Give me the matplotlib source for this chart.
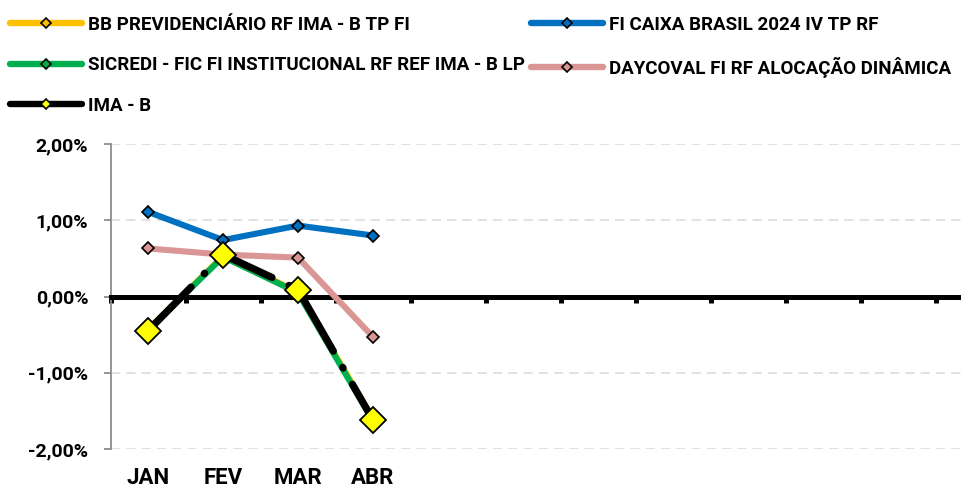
import numpy as np
import matplotlib
matplotlib.use("Agg")
import matplotlib.pyplot as plt
from matplotlib.lines import Line2D

plt.rcParams['font.family'] = ['Roboto', 'DejaVu Sans']
plt.rcParams['font.weight'] = 'bold'

# monthly returns (%)
months = ['JAN', 'FEV', 'MAR', 'ABR']
n_slots = 12
bb_prev = [-0.43, 0.53, 0.06, -1.60]
caixa_2024 = [1.11, 0.74, 0.93, 0.80]
sicredi = [-0.44, 0.52, 0.05, -1.63]
daycoval = [0.63, 0.55, 0.51, -0.53]
ima_b = [-0.45, 0.55, 0.09, -1.62]

names = ['BB PREVIDENCIÁRIO RF IMA - B TP FI',
         'FI CAIXA BRASIL 2024 IV TP RF',
         'SICREDI - FIC FI INSTITUCIONAL RF REF IMA - B LP',
         'DAYCOVAL FI RF ALOCAÇÃO DINÂMICA',
         'IMA - B']
colors = ['#FFC000', '#0070C0', '#00B050', '#DA9694', '#000000']
yticks = [-2, -1, 0, 1, 2]

W, H = 961, 492
fig = plt.figure(figsize=(W / 100, H / 100), dpi=100)
ax = fig.add_axes([110.5 / W, (H - 449) / H, 900 / W, 305 / H])

x = np.arange(len(months))
lw = 4.4
ax.plot(x, bb_prev, color=colors[0], lw=lw, marker='D', ms=6, mfc=colors[0], mec='k', zorder=3)
ax.plot(x, caixa_2024, color=colors[1], lw=lw, marker='D', ms=6.5, mfc=colors[1], mec='k', mew=1.2, zorder=3)
ax.plot(x, sicredi, color=colors[2], lw=lw, marker='D', ms=6, mfc=colors[2], mec='k', zorder=4)
ax.plot(x, daycoval, color=colors[3], lw=lw, marker='D', ms=6.5, mfc=colors[3], mec='k', mew=1.2, zorder=4)
ax.plot(x, ima_b, color='k', lw=5.2, dashes=(8.5, 2.6, 0.1, 2.6), dash_capstyle='round',
        marker='D', ms=13, mfc='#FFFF00', mec='k', mew=1.3, zorder=5)

ax.set_xlim(-0.5, n_slots - 0.5)
ax.set_ylim(-2, 2)

# grid
ax.set_yticks(yticks)
ax.set_yticklabels([f'{v:.2f}%'.replace('.', ',') for v in yticks])
ax.grid(axis='y', color='#D9D9D9', lw=1.1, dashes=(6, 4))
ax.set_axisbelow(True)

for s in ['top', 'right']:
    ax.spines[s].set_visible(False)
ax.spines['left'].set_color('#8C8C8C')
ax.spines['left'].set_linewidth(1.3)
ax.spines['bottom'].set_position(('data', 0))
ax.spines['bottom'].set_color('k')
ax.spines['bottom'].set_linewidth(3.6)
ax.spines['bottom'].set_zorder(2.6)

ax.tick_params(axis='y', direction='out', length=5, width=1.3, color='#8C8C8C',
               labelsize=14, pad=11)
ax.set_xticks(np.arange(-0.5, n_slots))
ax.tick_params(axis='x', direction='out', length=4.5, width=3.6, color='k', labelbottom=False)

sec = ax.secondary_xaxis('bottom')
sec.set_xticks(x)
sec.set_xticklabels(months)
sec.tick_params(length=0, labelsize=16, pad=13)
sec.spines['bottom'].set_visible(False)

# legend (row order of the reference)
def handle(i, face):
    return Line2D([], [], color=colors[i], lw=4.6, solid_capstyle='round', marker='D', ms=5.5,
                  mfc=face, mec='k', mew=1.2)

left = [handle(0, colors[0]), handle(2, colors[2]), handle(4, '#FFFF00')]
right = [handle(1, colors[1]), handle(3, colors[3])]
common = dict(loc='upper left', frameon=False, fontsize=13.5, handlelength=3.85,
              handletextpad=0.3, labelspacing=1.2, borderpad=0, borderaxespad=0)
leg1 = fig.legend(left, [names[0], names[2], names[4]], bbox_to_anchor=(10 / W, 1 - 16 / H), **common)
leg2 = fig.legend(right, [names[1], names[3]], bbox_to_anchor=(531 / W, 1 - 16 / H), **common)

fig.savefig('out.png', dpi=100)
